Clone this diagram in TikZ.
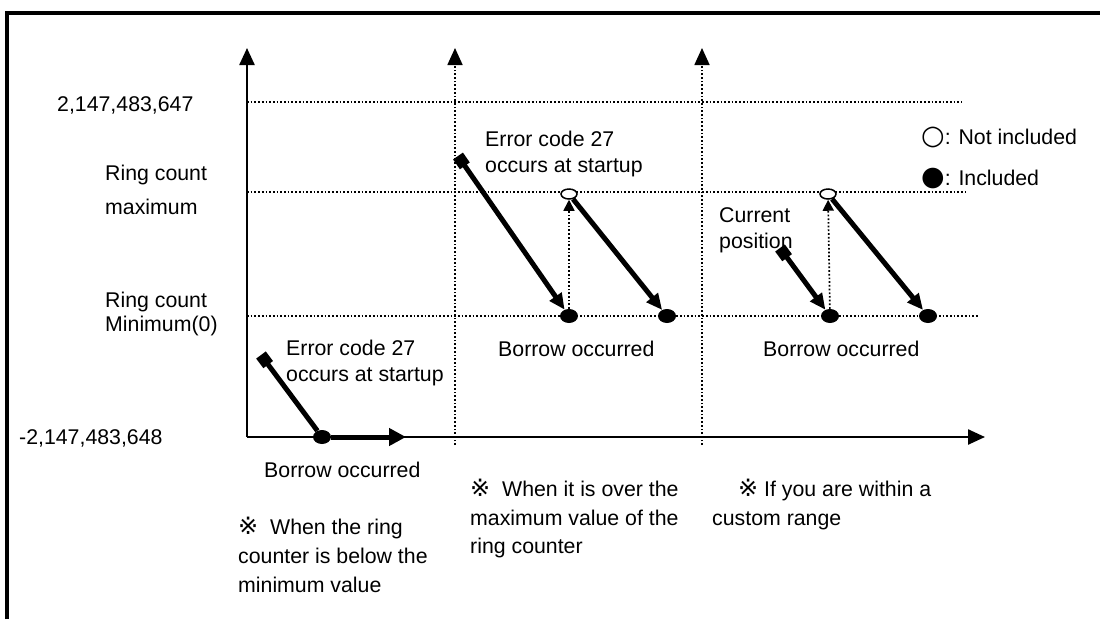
\documentclass[tikz,border=0pt]{standalone}
\usepackage{fontspec}
\setmainfont{Liberation Sans}
\newfontfamily\symfont{DejaVu Sans}
\usetikzlibrary{arrows.meta,shapes.geometric}
\begin{document}
\begin{tikzpicture}[x=1pt,y=-1pt,
  lbl/.style={anchor=base west,inner sep=0pt,font=\fontsize{21.3}{26}\selectfont},
  axis/.style={line width=2.4pt,-{Triangle[length=17pt,width=15pt]}},
  guide/.style={line width=1.7pt,dotted},
  vguide/.style={line width=1.7pt,dotted,-{Triangle[length=17pt,width=15pt]}},
  upguide/.style={line width=1.7pt,dotted,-{Triangle[length=11pt,width=11pt]}},
  move/.style={line width=5pt,-{Triangle[length=16pt,width=14pt]}},
  startsq/.style={{Square[length=12pt,width=12pt]}-{Triangle[length=16pt,width=14pt]}},
  fdot/.style={ellipse,fill=black,minimum width=18pt,minimum height=14pt,inner sep=0pt},
  hdot/.style={ellipse,draw=black,line width=1.5pt,fill=white,minimum width=16pt,minimum height=10pt,inner sep=0pt},
  frame/.style={line width=4pt}
]
\useasboundingbox (0,0) rectangle (1100,619);
% frame
\draw[frame] (7,619) -- (7,13) -- (1100,13);

% axes
\coordinate (O) at (247,437);
\coordinate (Ytop) at (247,48);
\coordinate (Xend) at (985,437);
\coordinate (g1b) at (455,445);
\coordinate (g1t) at (455,48);
\coordinate (g2b) at (702,445);
\coordinate (g2t) at (702,48);

% horizontal guides
\coordinate (hA1) at (247,102);
\coordinate (hA2) at (962,102);
\coordinate (hB1) at (247,192);
\coordinate (hB2) at (965,192);
\coordinate (hC1) at (247,316);
\coordinate (hC2) at (978,316);
\draw[guide] (hA1) -- (hA2);
\draw[guide] (hB1) -- (hB2);
\draw[guide] (hC1) -- (hC2);

\draw[vguide] (g1b) -- (g1t);
\draw[vguide] (g2b) -- (g2t);
\draw[axis] (O) -- (Ytop);
\draw[axis] (O) -- (Xend);

% section 1
\coordinate (s1) at (261,355);
\node[fdot] (d1) at (322,437) {};
\coordinate (e1) at (406,437);
\draw[line width=5pt,{Square[length=12pt,width=12pt]}-] (s1) -- (d1);
\draw[line width=5pt,-{Triangle[length=17pt,width=17pt]}] (d1) -- (e1);

% section 2
\coordinate (s2) at (458,156);
\node[fdot] (d2) at (569,316) {};
\node[hdot] (h2) at (569,194) {};
\node[fdot] (d3) at (667,316) {};
\draw[line width=5pt,startsq] (s2) -- (d2);
\draw[upguide] (d2) -- (h2);
\draw[move] (h2) -- (d3);

% section 3
\coordinate (s3) at (780,248);
\node[fdot] (d4) at (830,316) {};
\node[hdot] (h4) at (828,194) {};
\node[fdot] (d5) at (928,316) {};
\draw[line width=5pt,startsq] (s3) -- (d4);
\draw[upguide] (d4) -- (h4);
\draw[move] (h4) -- (d5);

% left labels
\node[lbl] (tmax) at (57,111) {2,147,483,647};
\node[lbl] (rmax1) at (105,180) {Ring count};
\node[lbl] (rmax2) at (105,214) {maximum};
\node[lbl] (rmin1) at (105,307) {Ring count};
\node[lbl] (rmin2) at (105,331) {Minimum(0)};
\node[lbl] (tmin) at (19,444) {-2,147,483,648};

% section labels
\node[lbl] (err1a) at (286,355) {Error code 27};
\node[lbl] (err1b) at (286,381) {occurs at startup};
\node[lbl] (bor1) at (264,477) {Borrow occurred};
\node[lbl] (err2a) at (485,146) {Error code 27};
\node[lbl] (err2b) at (485,172) {occurs at startup};
\node[lbl] (bor2) at (498,356) {Borrow occurred};
\node[lbl] (cur1) at (719,222) {Current};
\node[lbl] (cur2) at (719,248) {position};
\node[lbl] (bor3) at (763,356) {Borrow occurred};

% legend
\node[lbl] (leg1) at (921,144) {{\symfont\fontsize{27}{27}\selectfont ○}: Not included};
\node[lbl] (leg2) at (921,185) {{\symfont\fontsize{27}{27}\selectfont ●}: Included};

% notes
\node[lbl] (n1a) at (238,534) {{\symfont\fontsize{24}{24}\selectfont ※}\ \ When the ring};
\node[lbl] (n1b) at (238,563) {counter is below the};
\node[lbl] (n1c) at (238,592) {minimum value};
\node[lbl] (n2a) at (470,496) {{\symfont\fontsize{24}{24}\selectfont ※}\ \ When it is over the};
\node[lbl] (n2b) at (470,525) {maximum value of the};
\node[lbl] (n2c) at (470,553) {ring counter};
\node[lbl] (n3a) at (738,496) {{\symfont\fontsize{24}{24}\selectfont ※} If you are within a};
\node[lbl] (n3b) at (712,525) {custom range};
\end{tikzpicture}
\end{document}
